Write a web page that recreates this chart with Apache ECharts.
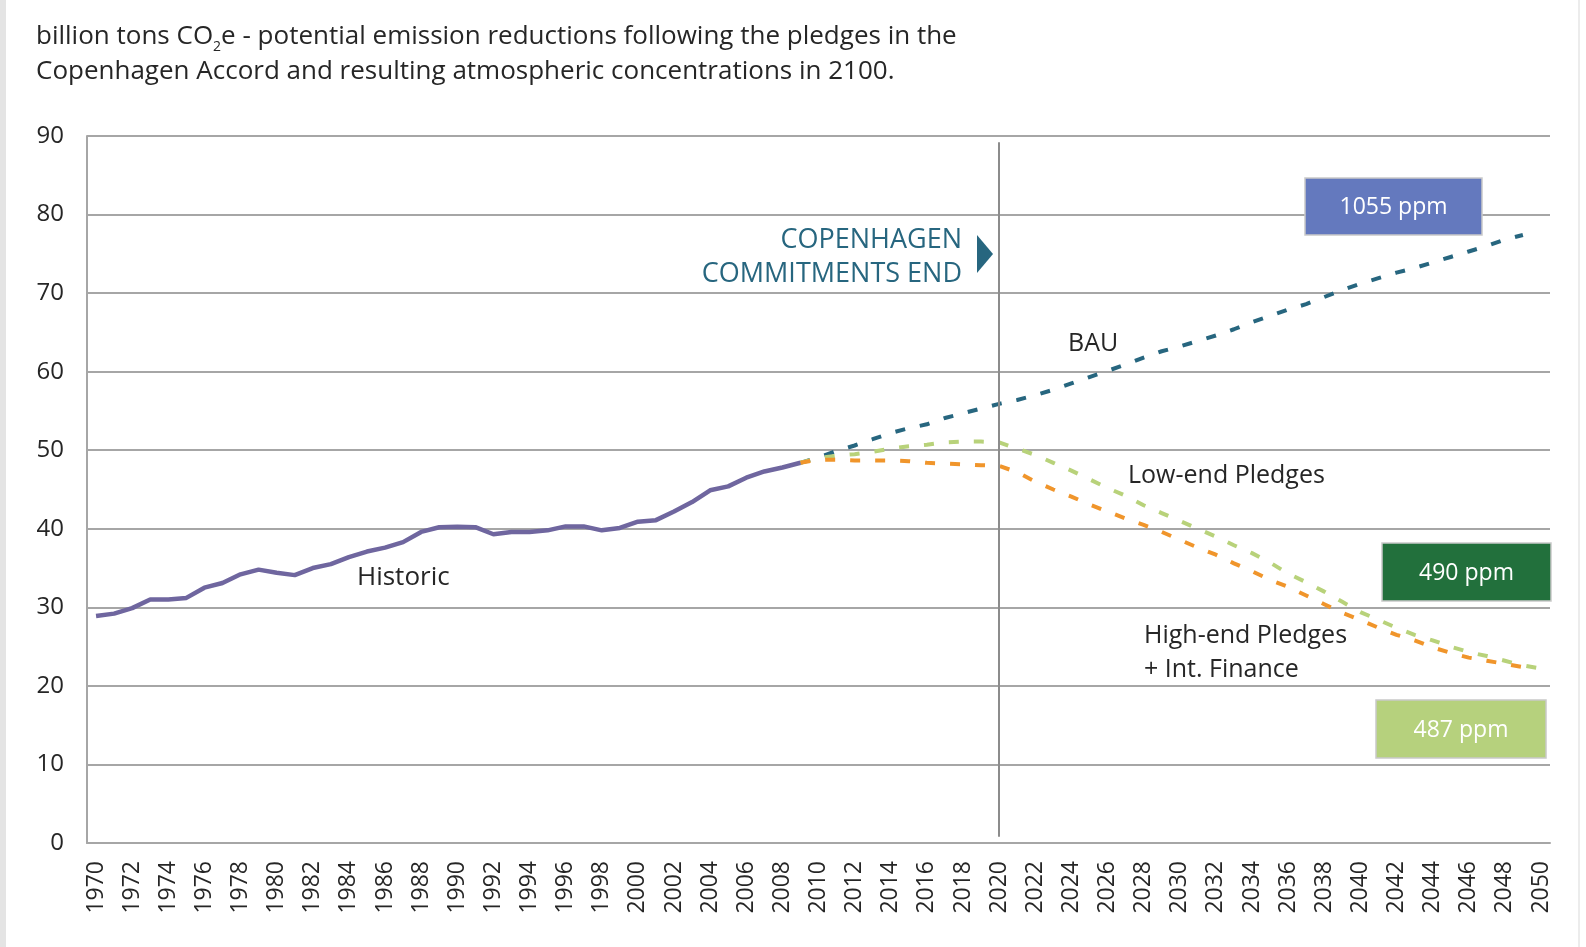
<!DOCTYPE html>
<html>
<head>
<meta charset="utf-8">
<title>Copenhagen Accord pledges</title>
<script src="https://cdn.jsdelivr.net/npm/echarts@6/dist/echarts.min.js"></script>
<style>
  html, body { margin: 0; padding: 0; background: #fff; }
  #chart { width: 1586px; height: 947px; }
</style>
</head>
<body>
<div id="chart"></div>
<script>
// x axis categories (years)
const years = ['1970','1971','1972','1973','1974','1975','1976','1977','1978','1979',
  '1980','1981','1982','1983','1984','1985','1986','1987','1988','1989',
  '1990','1991','1992','1993','1994','1995','1996','1997','1998','1999',
  '2000','2001','2002','2003','2004','2005','2006','2007','2008','2009',
  '2010','2011','2012','2013','2014','2015','2016','2017','2018','2019',
  '2020','2021','2022','2023','2024','2025','2026','2027','2028','2029',
  '2030','2031','2032','2033','2034','2035','2036','2037','2038','2039',
  '2040','2041','2042','2043','2044','2045','2046','2047','2048','2049','2050']

// 1970 - 2009
const historic = [28.9, 29.2, 29.9, 31.0, 31.0, 31.2, 32.5, 33.1, 34.2, 34.8,
  34.4, 34.1, 35.0, 35.5, 36.4, 37.1, 37.6, 38.3, 39.6, 40.2,
  40.25, 40.2, 39.3, 39.6, 39.6, 39.8, 40.3, 40.3, 39.8, 40.1,
  40.9, 41.1, 42.2, 43.4, 44.9, 45.4, 46.5, 47.3, 47.8, 48.4]

// projections start in 2009
const bau = [48.4, 49.1, 49.9, 50.6, 51.4, 52.2, 52.8, 53.3, 54.1, 54.7,
  55.3, 55.9, 56.4, 57.0, 57.7, 58.5, 59.3, 60.1, 60.9, 61.8,
  62.6, 63.2, 63.9, 64.6, 65.4, 66.3, 67.1, 67.9, 68.6, 69.5,
  70.4, 71.2, 71.9, 72.6, 73.2, 73.9, 74.6, 75.3, 76.0, 76.8, 77.4]

const lowEnd = [48.4, 49.0, 49.3, 49.5, 49.8, 50.2, 50.5, 50.7, 51.0, 51.1,
  51.1, 51.0, 50.2, 49.4, 48.4, 47.4, 46.3, 45.2, 44.2, 43.0,
  42.0, 41.0, 40.0, 39.0, 37.9, 36.9, 35.7, 34.3, 33.2, 32.0,
  30.7, 29.4, 28.4, 27.4, 26.5, 25.8, 25.0, 24.3, 23.8, 23.2, 22.6, 22.2]

const highEnd = [48.4, 48.8, 48.8, 48.7, 48.7, 48.7, 48.6, 48.4, 48.3, 48.2,
  48.1, 48.0, 47.2, 46.0, 45.0, 44.1, 43.1, 42.2, 41.3, 40.5,
  39.6, 38.6, 37.6, 36.7, 35.6, 34.6, 33.5, 32.6, 31.5, 30.4,
  29.3, 28.4, 27.4, 26.5, 25.8, 24.9, 24.2, 23.6, 23.2, 22.8, 22.4]

const yTicks = [0, 10, 20, 30, 40, 50, 60, 70, 80, 90]

const FONT = '"Open Sans", Lato, sans-serif'
const TEAL = '#27667f'
const INK = '#262626'

// pad projections so they start at 2009
const fromYear = (arr, start) => Array(years.indexOf(start)).fill(null).concat(arr)

const chart = echarts.init(document.getElementById('chart'))

const dashed = (color) => ({
  type: 'line',
  symbol: 'none',
  smooth: false,
  lineStyle: { color: color, width: 4, type: [10, 15], cap: 'butt' }
})

// text annotation, anchored at its left (or right) middle
const note = (x, y, text, opts) => ({
  type: 'text', x: x, y: y, z: 100,
  style: Object.assign({
    text: text, font: '25px ' + FONT, fill: INK,
    align: 'left', verticalAlign: 'middle', lineHeight: 34
  }, opts || {})
})

const ppmBox = (left, top, w, h, color, text) => ({
  type: 'group', x: left, y: top, z: 100,
  children: [
    { type: 'rect', z: 100, shape: { width: w, height: h }, style: { fill: color, stroke: '#c9c9c9', lineWidth: 1.5 } },
    { type: 'text', z: 101, x: w / 2, y: h / 2 + 1, style: { text: text, font: '23px ' + FONT, fill: '#fff', align: 'center', verticalAlign: 'middle' } }
  ]
})

const option = {
  backgroundColor: '#fff',
  animation: false,
  grid: { left: 87, right: 36, top: 136, bottom: 104 },
  xAxis: {
    type: 'category',
    data: years,
    boundaryGap: true,
    axisLine: { lineStyle: { color: '#a6a6a6', width: 2 } },
    axisTick: { show: false },
    axisLabel: {
      interval: 1,
      rotate: 90,
      margin: 18,
      color: INK,
      fontSize: 23,
      fontFamily: FONT
    },
    splitLine: { show: false }
  },
  yAxis: {
    type: 'value',
    min: yTicks[0],
    max: yTicks[yTicks.length - 1],
    interval: 10,
    axisLine: { show: true, lineStyle: { color: '#a6a6a6', width: 2 } },
    axisTick: { show: false },
    axisLabel: { margin: 23, color: INK, fontSize: 24, fontFamily: FONT },
    splitLine: { lineStyle: { color: '#a6a6a6', width: 2 } }
  },
  series: [
    {
      name: 'Historic',
      type: 'line',
      symbol: 'none',
      data: historic,
      lineStyle: { color: '#6f669f', width: 4.5 },
      z: 5,
      markLine: {
        silent: true,
        symbol: 'none',
        label: { show: false },
        lineStyle: { color: '#8c8c8c', width: 2, type: 'solid' },
        data: [[{ coord: ['2020', 89.2] }, { coord: ['2020', 0.8] }]]
      }
    },
    Object.assign(dashed(TEAL), { name: 'BAU', data: fromYear(bau, '2009') }),
    Object.assign(dashed('#b8d27a'), { name: 'Low-end Pledges', data: fromYear(lowEnd, '2009') }),
    Object.assign(dashed('#f0952b'), { name: 'High-end Pledges + Int. Finance', data: fromYear(highEnd, '2009') })
  ],
  graphic: [
    // page edge shadows
    { type: 'rect', x: 0, y: 0, shape: { width: 6, height: 947 }, style: { fill: '#e4e4e4' } },
    { type: 'rect', x: 1578, y: 0, shape: { width: 2, height: 947 }, style: { fill: '#ececec' } },
    note(36, 54,
      'billion tons CO{sub|2}e - potential emission reductions following the pledges in the\nCopenhagen Accord and resulting atmospheric concentrations in 2100.',
      { font: '26px ' + FONT, lineHeight: 35,
        rich: { sub: { font: '14px ' + FONT, fill: INK, verticalAlign: 'bottom', padding: [14, 0, 0, 0] } } }),
    note(962, 257, 'COPENHAGEN\nCOMMITMENTS END', { font: '27px ' + FONT, fill: TEAL, align: 'right', lineHeight: 34 }),
    {
      type: 'polygon', z: 100,
      shape: { points: [[977, 235], [993, 254], [977, 273]] },
      style: { fill: TEAL }
    },
    note(357, 578, 'Historic', { font: '26px ' + FONT }),
    note(1068, 344, 'BAU'),
    note(1128, 476, 'Low-end Pledges'),
    note(1144, 653, 'High-end Pledges\n+ Int. Finance'),
    ppmBox(1305, 178, 177, 57, '#6479be', '1055 ppm'),
    ppmBox(1382, 543, 169, 58, '#22703c', '490 ppm'),
    ppmBox(1376, 700, 170, 58, '#b6d17d', '487 ppm')
  ]
}

chart.setOption(option)

window.addEventListener('resize', () => {
  chart.resize()
})
</script>
</body>
</html>
